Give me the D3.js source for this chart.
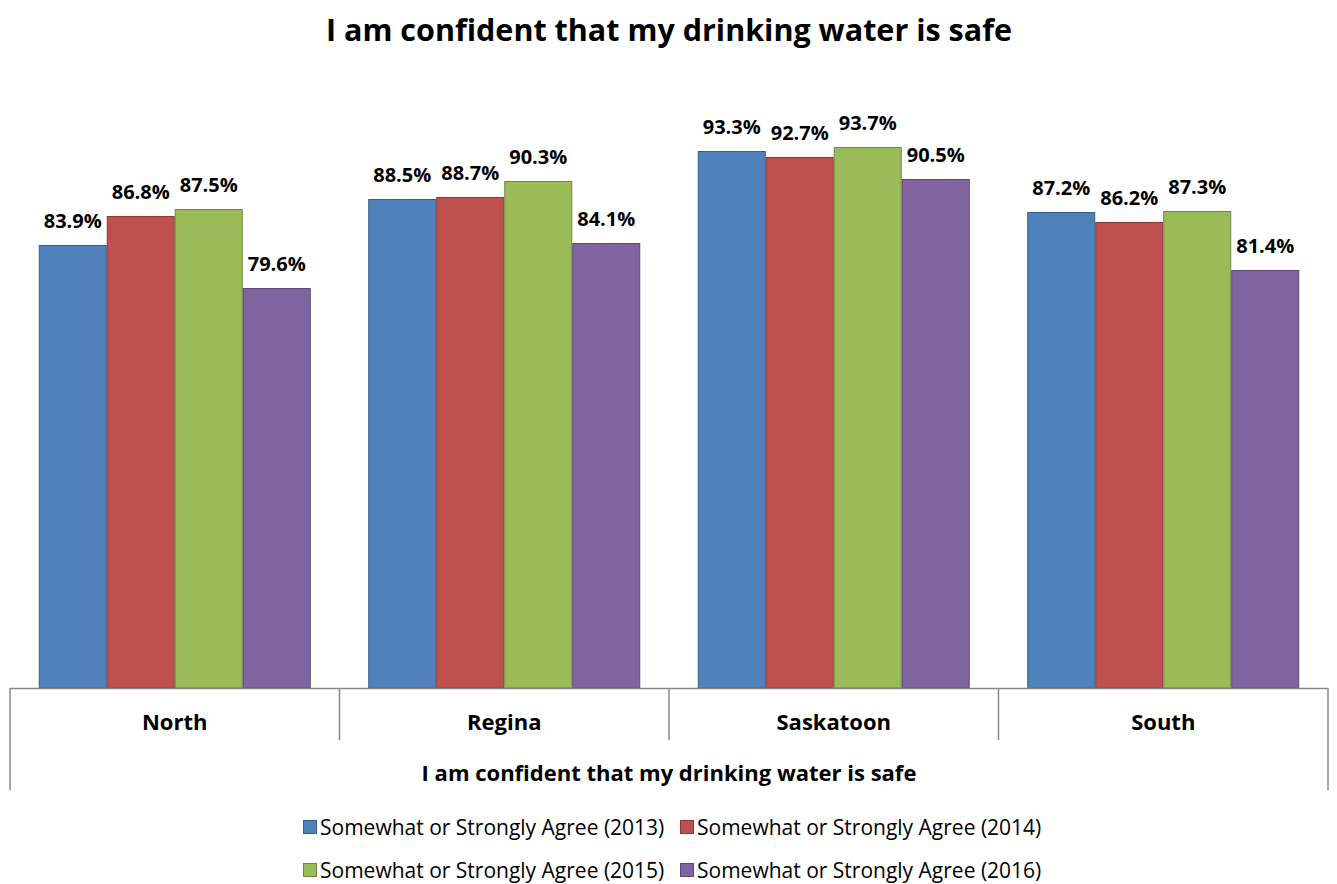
<!DOCTYPE html>
<html>
<head>
<meta charset="utf-8">
<script src="https://cdn.jsdelivr.net/npm/d3@7"></script>
<style>
  body { margin: 0; background: #fff; }
  text { font-family: "Open Sans", Lato, sans-serif; }
</style>
</head>
<body>
<div id="container"></div>
<script>
const regions = ["North", "Regina", "Saskatoon", "South"];
const years = ["2013", "2014", "2015", "2016"];
const v2013 = [83.9, 88.5, 93.3, 87.2];
const v2014 = [86.8, 88.7, 92.7, 86.2];
const v2015 = [87.5, 90.3, 93.7, 87.3];
const v2016 = [79.6, 84.1, 90.5, 81.4];
const seriesNames = years.map((y) => `Somewhat or Strongly Agree (${y})`);
const fills = ["#4F81BD", "#C0504D", "#9BBB59", "#8064A2"];
const strokes = ["#385D8A", "#8C3836", "#71893F", "#5C4776"];
const chartTitle = "I am confident that my drinking water is safe";

const width = 1337;
const height = 884;
const base = 688;

const series = [v2013, v2014, v2015, v2016];

const svg = d3.create("svg")
  .attr("width", width)
  .attr("height", height);

const x0 = d3.scaleBand()
  .domain(regions)
  .range([10, 1328]);

// 4 bars of ~68px centred in each group
const barW = 68;
const inner = d3.scaleBand()
  .domain(years)
  .range([(x0.bandwidth() - barW * 4) / 2, (x0.bandwidth() + barW * 4) / 2]);

const y = d3.scaleLinear()
  .domain([39.6, 100])
  .range([base, 84]);

svg.append("text")
  .attr("x", 669)
  .attr("y", 41)
  .attr("text-anchor", "middle")
  .attr("font-size", 30.5)
  .attr("font-weight", "bold")
  .text(chartTitle);

const groups = svg.append("g")
  .selectAll("g")
  .data(regions)
  .join("g")
  .attr("transform", (d) => `translate(${x0(d)},0)`);

const cells = (d, i) => years.map((yr, j) => ({ yr, j, v: series[j][i] }));

groups.selectAll("rect")
  .data(cells)
  .join("rect")
  .attr("x", (d) => inner(d.yr) + 0.5)
  .attr("y", (d) => y(d.v) + 0.5)
  .attr("width", inner.bandwidth() - 1)
  .attr("height", (d) => base - y(d.v) - 0.5)
  .attr("fill", (d) => fills[d.j])
  .attr("stroke", (d) => strokes[d.j])
  .attr("stroke-width", 1);

groups.selectAll("text.lbl")
  .data(cells)
  .join("text")
  .attr("class", "lbl")
  .attr("x", (d) => inner(d.yr) + inner.bandwidth() / 2)
  .attr("y", (d) => y(d.v) - 17)
  .attr("text-anchor", "middle")
  .attr("font-size", 20)
  .attr("font-weight", "bold")
  .text((d) => d.v.toFixed(1) + "%");

// category axis
const axisColor = "#888";
svg.append("line")
  .attr("x1", 10).attr("x2", 1328)
  .attr("y1", base + 0.5).attr("y2", base + 0.5)
  .attr("stroke", axisColor).attr("stroke-width", 1.5);

const edges = regions.map((r) => x0(r)).concat([x0.range()[1]]);
svg.append("g")
  .selectAll("line")
  .data(edges)
  .join("line")
  .attr("x1", (d) => d).attr("x2", (d) => d)
  .attr("y1", base)
  .attr("y2", (d, i) => (i === 0 || i === edges.length - 1) ? 790 : 740)
  .attr("stroke", axisColor).attr("stroke-width", 1.5);

svg.append("g")
  .selectAll("text")
  .data(regions)
  .join("text")
  .attr("x", (d) => x0(d) + x0.bandwidth() / 2)
  .attr("y", 730)
  .attr("text-anchor", "middle")
  .attr("font-size", 22)
  .attr("font-weight", "bold")
  .text((d) => d);

svg.append("text")
  .attr("x", 669)
  .attr("y", 781)
  .attr("text-anchor", "middle")
  .attr("font-size", 22)
  .attr("font-weight", "bold")
  .text(chartTitle);

// legend
const legX = [303, 680];
const legY = [828, 871];
const legend = svg.append("g")
  .selectAll("g")
  .data(seriesNames)
  .join("g")
  .attr("transform", (d, i) => `translate(${legX[i % 2]},${legY[Math.floor(i / 2)]})`);

legend.append("rect")
  .attr("x", 0.5).attr("y", -7.5)
  .attr("width", 13).attr("height", 13)
  .attr("fill", (d, i) => fills[i])
  .attr("stroke", (d, i) => strokes[i]);

legend.append("text")
  .attr("x", 17)
  .attr("y", 7)
  .attr("font-size", 21)
  .text((d) => d);

container.append(svg.node());
</script>
</body>
</html>
